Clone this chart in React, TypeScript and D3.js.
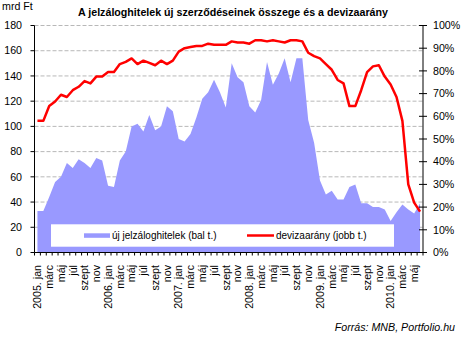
import React from "react";
import * as d3 from "d3";

const months: string[] = ["jan", "márc", "máj", "júl", "szept", "nov"];
const years: number[] = [2005, 2006, 2007, 2008, 2009, 2010];
const loans: number[] = [
  33, 33, 44, 56, 60, 71, 67, 74, 71, 67, 75, 73,
  53, 52, 73, 80, 100, 102, 96, 109, 97, 100, 116, 112,
  90, 88, 94, 107, 122, 127, 137, 127, 115, 150, 139, 135,
  116, 111, 121, 151, 133, 142, 154, 135, 154, 154, 105, 87,
  57, 46, 49, 42, 42, 52, 54, 39, 39, 36, 36, 34,
  25, 32, 38, 34, 31, 39,
];
const fxShare: number[] = [
  58, 58, 64.5, 66.5, 69.5, 68.5, 71.5, 73, 75.5, 74.5, 77.5, 77.5,
  79.5, 79.5, 83, 84, 85.5, 83, 84.5, 83.5, 82.5, 84.5, 83, 84.5,
  88.5, 90, 90.5, 91, 91, 92, 91.5, 91.5, 91.5, 93, 92.5, 92.5,
  92, 93.5, 93.5, 93, 93.5, 93, 92.5, 93.5, 93.5, 93,
  88, 86.5, 85.5, 83, 80.5, 76, 74.5, 64.5, 64.5, 71.5, 79.5, 82,
  82.5, 77.5, 74, 68.5, 58, 30, 22, 18,
];
const leftTicks: number[] = [0, 20, 40, 60, 80, 100, 120, 140, 160, 180];
const rightTicks: number[] = [0, 10, 20, 30, 40, 50, 60, 70, 80, 90, 100];

const font = "'Liberation Sans', Arial, sans-serif";

export default function App() {
  const W = 461, H = 338;
  const x0 = 34.5, x1 = 423, yTop = 25.5, yBot = 252.5;
  const idx = loans.map((_, i) => i);
  const xb = d3.scaleBand<number>().domain(idx).range([x0, x1]).padding(0);
  const bw = xb.bandwidth();
  const xc = (i: number) => (xb(i) as number) + bw / 2;
  const yL = d3.scaleLinear().domain([0, 180]).range([yBot, yTop]);
  const yR = d3.scaleLinear().domain([0, 100]).range([yBot, yTop]);

  const area = d3.area<number>().x((_, i) => xc(i)).y0(yBot).y1((d) => yL(d));
  const line = d3.line<number>().x((_, i) => xc(i)).y((d) => yR(d));

  const label = (i: number) => {
    const m = months[(i % 12) / 2];
    if (i % 12 === 0) return `${years[i / 12]}. ${m}`;
    return m;
  };
  const tickPos = d3.range(idx.length + 1).map((k) => x0 + k * bw);

  return (
    <svg width={W} height={H} style={{ position: "absolute", left: 0, top: 0 }} fontFamily={font}>
      <rect width={W} height={H} fill="#fff" />
      <text x={233} y={16} textAnchor="middle" fontWeight="bold" fontSize={10.67}>
        A jelzáloghitelek új szerződéseinek összege és a devizaarány
      </text>
      <text x={2} y={10} fontSize={10.67}>mrd Ft</text>

      {leftTicks.filter((t) => t > 0).map((t) => (
        <line key={t} x1={x0} x2={x1} y1={yL(t)} y2={yL(t)} stroke="#b8b8b8" strokeDasharray="4,2" />
      ))}

      <path d={area(loans) as string} fill="#9999ff" />
      <path d={line(fxShare) as string} fill="none" stroke="#ff0000" strokeWidth={2.5} strokeLinejoin="round" />

      <rect x={51} y={224.3} width={343} height={22.4} fill="#fff" />
      <rect x={84} y={233.3} width={26} height={4.5} fill="#9999ff" />
      <text x={112} y={239} fontSize={10} fill="#000">új jelzáloghitelek (bal t.)</text>
      <line x1={247} x2={274} y1={235.5} y2={235.5} stroke="#ff0000" strokeWidth={2.5} />
      <text x={276} y={239} fontSize={10} fill="#000">devizaarány (jobb t.)</text>

      <line x1={x0} x2={x0} y1={yTop} y2={yBot} stroke="#000" />
      <line x1={x1} x2={x1} y1={yTop} y2={yBot} stroke="#000" />
      <line x1={x0} x2={x1} y1={yBot} y2={yBot} stroke="#000" />

      {leftTicks.map((t) => (
        <g key={t}>
          <line x1={x0 - 4} x2={x0} y1={yL(t)} y2={yL(t)} stroke="#000" />
          <text x={22} y={yL(t)} dy="0.35em" textAnchor="end" fontSize={10.67}>{t}</text>
        </g>
      ))}
      {rightTicks.map((t) => (
        <g key={t}>
          <line x1={x1 - 4} x2={x1 + 4} y1={yR(t)} y2={yR(t)} stroke="#000" />
          <text x={433} y={yR(t)} dy="0.35em" fontSize={10.67}>{t}%</text>
        </g>
      ))}
      {tickPos.map((p, k) => (
        <line key={k} x1={p} x2={p} y1={yBot} y2={yBot + 3} stroke="#000" />
      ))}
      {idx.filter((i) => i % 2 === 0).map((i) => (
        <text key={i} transform={`translate(${xc(i)},265) rotate(-90)`} textAnchor="end" dy="0.35em" fontSize={10.67}>
          {label(i)}
        </text>
      ))}
      <text x={455} y={331} textAnchor="end" fontStyle="italic" fontSize={10.67}>Forrás: MNB, Portfolio.hu</text>
    </svg>
  );
}
